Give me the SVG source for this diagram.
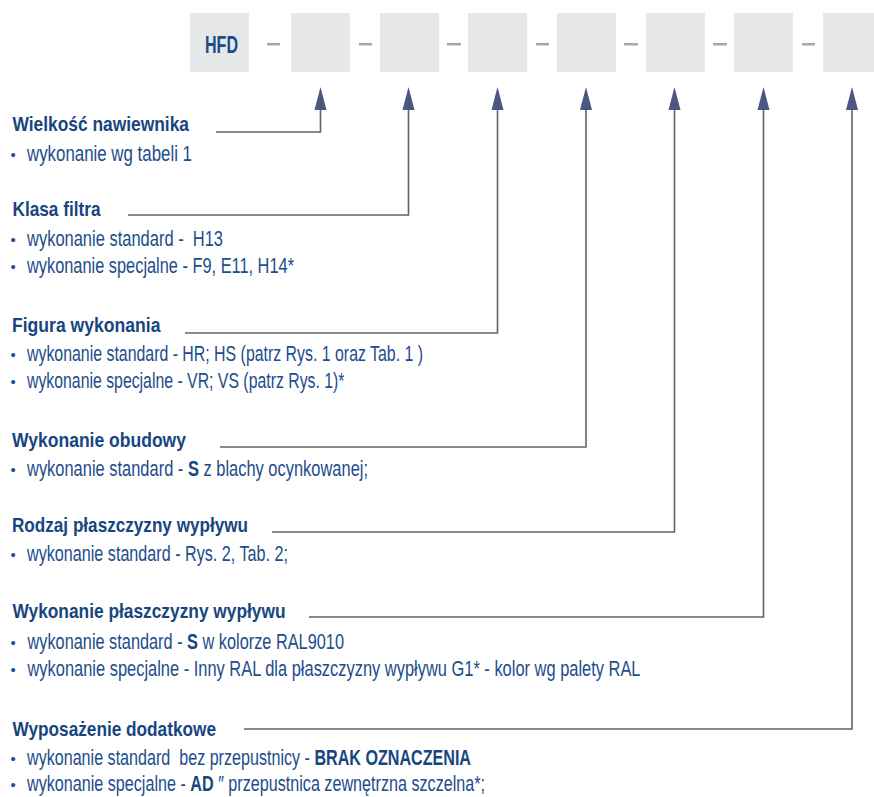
<svg xmlns="http://www.w3.org/2000/svg" width="874" height="797" viewBox="0 0 874 797">
<style>
.box{fill:#e6e7e9}
.dash{fill:#a8a8a8}
.conn{fill:none;stroke:#636363;stroke-width:1.6}
.ah{fill:#4b5681}
.h{font-family:"Liberation Sans Narrow","Liberation Sans",Arial,sans-serif;font-weight:bold;font-size:21px;fill:#17467f}
.t{font-family:"Liberation Sans Narrow","Liberation Sans",Arial,sans-serif;font-size:22.5px;fill:#1d4d8b}
.b{font-weight:bold;fill:#17467f}
.dot{font-family:"Liberation Sans",Arial,sans-serif;font-size:15px;fill:#1d4d8b}
.code{font-family:"Liberation Sans Narrow","Liberation Sans",Arial,sans-serif;font-weight:bold;font-size:23px;fill:#1a4b8a}
</style>
<rect width="874" height="797" fill="#ffffff"/>
<g id="code-row">
<g id="box-hfd"><rect class="box" x="190" y="13" width="59" height="59"/><text class="code" x="205" y="53" textLength="33" lengthAdjust="spacingAndGlyphs">HFD</text></g>
<g id="box-1"><rect class="box" x="291" y="13" width="59" height="59"/></g>
<g id="box-2"><rect class="box" x="380" y="13" width="59" height="59"/></g>
<g id="box-3"><rect class="box" x="468" y="13" width="59" height="59"/></g>
<g id="box-4"><rect class="box" x="557" y="13" width="59" height="59"/></g>
<g id="box-5"><rect class="box" x="646" y="13" width="59" height="59"/></g>
<g id="box-6"><rect class="box" x="734" y="13" width="59" height="59"/></g>
<g id="box-7"><rect class="box" x="823" y="13" width="59" height="59"/></g>
<g id="dashes">
<rect class="dash" x="267" y="43" width="13" height="2.5"/>
<rect class="dash" x="359" y="43" width="13" height="2.5"/>
<rect class="dash" x="447" y="43" width="14" height="2.5"/>
<rect class="dash" x="536" y="43" width="13" height="2.5"/>
<rect class="dash" x="624" y="43" width="14" height="2.5"/>
<rect class="dash" x="713" y="43" width="14" height="2.5"/>
<rect class="dash" x="802" y="43" width="13" height="2.5"/>
</g>
</g>
<g id="connectors">
<polyline class="conn" points="216,132 320.5,132 320.5,108"/>
<polyline class="conn" points="128,215 408.5,215 408.5,108"/>
<polyline class="conn" points="185,333 497.5,333 497.5,108"/>
<polyline class="conn" points="220,447 586,447 586,108"/>
<polyline class="conn" points="272,532 674.5,532 674.5,108"/>
<polyline class="conn" points="309,617 763.5,617 763.5,108"/>
<polyline class="conn" points="244,729 852,729 852,108"/>
<polygon class="ah" points="314.5,110 320.5,87 326.5,110"/>
<polygon class="ah" points="402.5,110 408.5,87 414.5,110"/>
<polygon class="ah" points="491.5,110 497.5,87 503.5,110"/>
<polygon class="ah" points="580,110 586,87 592,110"/>
<polygon class="ah" points="668.5,110 674.5,87 680.5,110"/>
<polygon class="ah" points="757.5,110 763.5,87 769.5,110"/>
<polygon class="ah" points="846,110 852,87 858,110"/>
</g>
<g id="sec-wielkosc">
<text class="h" x="12.5" y="131" textLength="176.5" lengthAdjust="spacingAndGlyphs">Wielkość nawiewnika</text>
<text class="dot" x="10.5" y="160">•</text>
<text class="t" x="27" y="161" textLength="165" lengthAdjust="spacingAndGlyphs">wykonanie wg tabeli 1</text>
</g>
<g id="sec-klasa">
<text class="h" x="12.5" y="216" textLength="88" lengthAdjust="spacingAndGlyphs">Klasa filtra</text>
<text class="dot" x="10.5" y="245">•</text>
<text class="t" x="27" y="246" textLength="196" lengthAdjust="spacingAndGlyphs">wykonanie standard -&#160; H13</text>
<text class="dot" x="10.5" y="272">•</text>
<text class="t" x="27" y="273" textLength="267" lengthAdjust="spacingAndGlyphs">wykonanie specjalne - F9, E11, H14*</text>
</g>
<g id="sec-figura">
<text class="h" x="12" y="332" textLength="148.5" lengthAdjust="spacingAndGlyphs">Figura wykonania</text>
<text class="dot" x="10.5" y="360">•</text>
<text class="t" x="27" y="361" textLength="396" lengthAdjust="spacingAndGlyphs">wykonanie standard - HR; HS (patrz Rys. 1 oraz Tab. 1 )</text>
<text class="dot" x="10.5" y="387">•</text>
<text class="t" x="27" y="388" textLength="317.5" lengthAdjust="spacingAndGlyphs">wykonanie specjalne - VR; VS (patrz Rys. 1)*</text>
</g>
<g id="sec-obudowa">
<text class="h" x="12" y="447" textLength="174" lengthAdjust="spacingAndGlyphs">Wykonanie obudowy</text>
<text class="dot" x="10.5" y="475">•</text>
<text class="t" x="27" y="476" textLength="341" lengthAdjust="spacingAndGlyphs">wykonanie standard - <tspan class="b">S</tspan> z blachy ocynkowanej;</text>
</g>
<g id="sec-rodzaj">
<text class="h" x="12" y="532" textLength="236" lengthAdjust="spacingAndGlyphs">Rodzaj płaszczyzny wypływu</text>
<text class="dot" x="10.5" y="560">•</text>
<text class="t" x="27" y="561" textLength="261" lengthAdjust="spacingAndGlyphs">wykonanie standard - Rys. 2, Tab. 2;</text>
</g>
<g id="sec-plaszczyzna">
<text class="h" x="12.5" y="618" textLength="273" lengthAdjust="spacingAndGlyphs">Wykonanie płaszczyzny wypływu</text>
<text class="dot" x="10.5" y="648">•</text>
<text class="t" x="27.5" y="649" textLength="316.5" lengthAdjust="spacingAndGlyphs">wykonanie standard - <tspan class="b">S</tspan> w kolorze RAL9010</text>
<text class="dot" x="10.5" y="675">•</text>
<text class="t" x="27.5" y="676" textLength="613" lengthAdjust="spacingAndGlyphs">wykonanie specjalne - Inny RAL dla płaszczyzny wypływu G1* - kolor wg palety RAL</text>
</g>
<g id="sec-wyposazenie">
<text class="h" x="12.5" y="736" textLength="203.5" lengthAdjust="spacingAndGlyphs">Wyposażenie dodatkowe</text>
<text class="dot" x="10.5" y="764">•</text>
<text class="t" x="27" y="765" textLength="444" lengthAdjust="spacingAndGlyphs">wykonanie standard&#160; bez przepustnicy - <tspan class="b">BRAK OZNACZENIA</tspan></text>
<text class="dot" x="10.5" y="790">•</text>
<text class="t" x="27" y="791" textLength="458" lengthAdjust="spacingAndGlyphs">wykonanie specjalne - <tspan class="b">AD</tspan> ″ przepustnica zewnętrzna szczelna*;</text>
</g>
</svg>
